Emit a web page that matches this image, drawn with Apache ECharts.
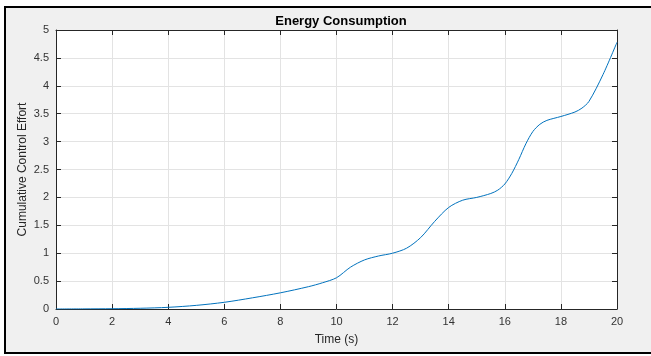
<!DOCTYPE html>
<html>
<head>
<meta charset="utf-8">
<script src="https://cdn.jsdelivr.net/npm/echarts@6/dist/echarts.min.js"></script>
<style>
  html, body { margin: 0; padding: 0; background: #fff; }
  #chart { width: 651px; height: 356px; }
</style>
</head>
<body>
<div id="chart"></div>
<script>
// time (s) and cumulative effort
var times = [0, 1, 2, 3, 4, 5, 6, 7, 8, 9, 9.5, 10, 10.5, 11, 11.5, 12, 12.5, 13, 13.5, 14,
  14.5, 15, 15.5, 15.75, 16, 16.25, 16.5, 16.75, 17, 17.25, 17.5, 18, 18.5, 18.75, 19, 19.5, 20];
var effort = [0, 0.002, 0.005, 0.013, 0.03, 0.065, 0.12, 0.2, 0.29, 0.4, 0.47, 0.56, 0.75, 0.88,
  0.95, 1.0, 1.09, 1.28, 1.57, 1.82, 1.95, 2.0, 2.07, 2.13, 2.24, 2.43, 2.68, 2.96, 3.18, 3.31,
  3.38, 3.45, 3.53, 3.6, 3.72, 4.2, 4.78];
var xTicks = [0, 20, 2];   // min, max, step
var yTicks = [0, 5, 0.5];

var pts = [];
for (var i = 0; i < times.length; i++) {
  pts.push([times[i], effort[i]]);
}

var font = 'Liberation Sans, Arial, sans-serif';
var boxColor = '#262626';

function boxAxis(pos, range, main) {
  return {
    type: 'value',
    position: pos,
    min: range[0],
    max: range[1],
    interval: range[2],
    axisLine: { show: true, onZero: false, lineStyle: { color: boxColor, width: 1 } },
    axisTick: { show: true, inside: true, length: 5, lineStyle: { color: boxColor } },
    axisLabel: { show: main, color: '#333', fontFamily: font, fontSize: 11, margin: 7 },
    splitLine: { show: main, lineStyle: { color: '#e3e3e3', width: 1 } }
  };
}

var xMain = boxAxis('bottom', xTicks, true);
xMain.name = 'Time (s)';
xMain.nameLocation = 'middle';
xMain.nameGap = 25;
xMain.nameMoveOverlap = false;
xMain.nameTextStyle = { color: '#262626', fontFamily: font, fontSize: 12 };

var yMain = boxAxis('left', yTicks, true);
yMain.name = 'Cumulative Control Effort';
yMain.nameLocation = 'middle';
yMain.nameGap = 27;
yMain.nameMoveOverlap = false;
yMain.nameTextStyle = { color: '#262626', fontFamily: font, fontSize: 12 };

var chart = echarts.init(document.getElementById('chart'));
chart.setOption({
  animation: false,
  backgroundColor: '#fff',
  graphic: [{
    type: 'rect',
    z: -10,
    silent: true,
    shape: { x: 5, y: 7, width: 660, height: 346 },
    style: { fill: '#f0f0f0', stroke: '#000', lineWidth: 2 }
  }],
  title: {
    text: 'Energy Consumption',
    left: 336,
    textAlign: 'center',
    top: 10,
    textStyle: { color: '#000', fontFamily: font, fontSize: 13, fontWeight: 'bold' }
  },
  grid: {
    left: 56, right: 34, top: 30, bottom: 47,
    show: true, backgroundColor: '#fff', borderWidth: 0
  },
  xAxis: [xMain, boxAxis('top', xTicks, false)],
  yAxis: [yMain, boxAxis('right', yTicks, false)],
  series: [{
    type: 'line',
    data: pts,
    smooth: 0.3,
    showSymbol: false,
    lineStyle: { color: '#0072BD', width: 1 }
  }]
});
</script>
</body>
</html>
